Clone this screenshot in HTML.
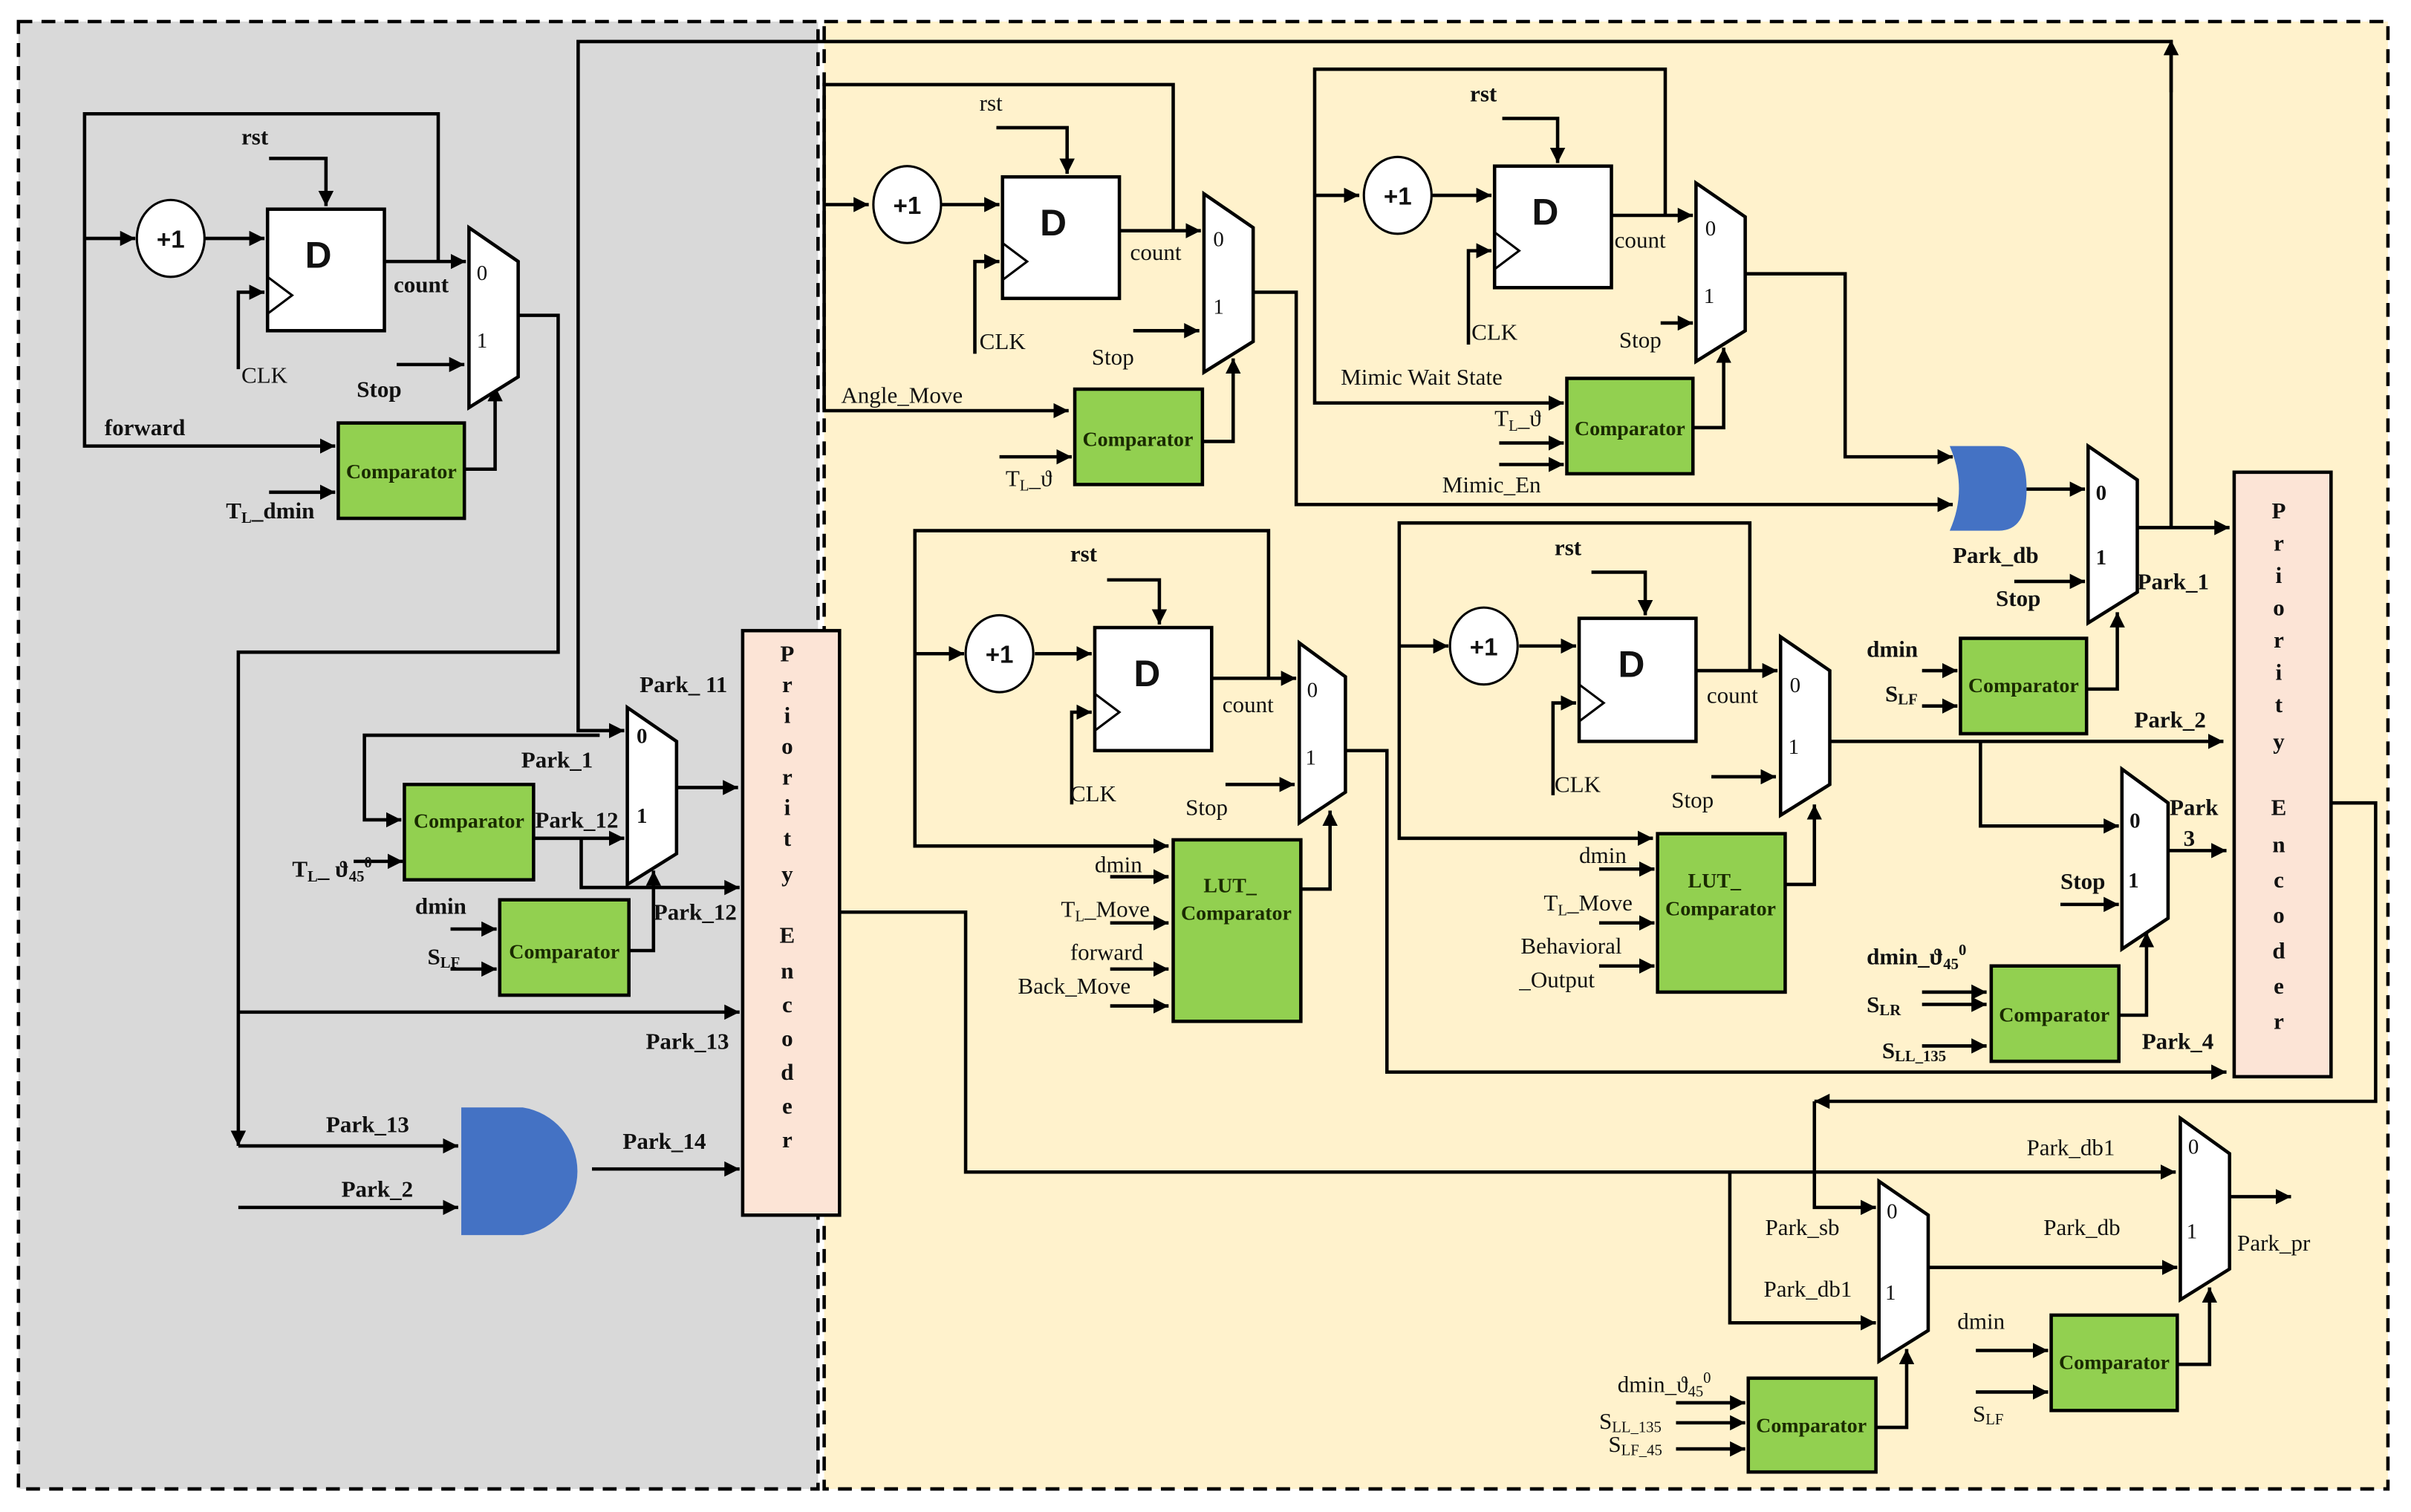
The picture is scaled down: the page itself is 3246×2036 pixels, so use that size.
<!DOCTYPE html>
<html><head><meta charset="utf-8"><style>
html,body{margin:0;padding:0;background:#fff;}
svg{display:block;}
text{font-family:"Liberation Serif",serif;font-size:15px;fill:#111;}
.c{font-size:13.5px;font-weight:bold;text-anchor:middle;fill:#1a2a00;}
.d{font-family:"Liberation Sans",sans-serif;font-size:24px;font-weight:bold;text-anchor:middle;}
.p{font-family:"Liberation Sans",sans-serif;font-size:16px;font-weight:bold;text-anchor:middle;}
.b{font-weight:bold;}
.m{font-size:14px;}
.pe{font-size:15px;font-weight:bold;text-anchor:middle;}
.s{font-size:10px;}
</style></head><body>
<svg width="3246" height="2036" viewBox="0 0 1568 983" preserveAspectRatio="none" xmlns="http://www.w3.org/2000/svg">
<defs>
<marker id="a" viewBox="0 0 10 10" refX="10" refY="5" markerWidth="4.5" markerHeight="4.5" orient="auto" markerUnits="strokeWidth"><path d="M0,0 L10,5 L0,10 z" fill="#000"/></marker>
</defs>
<rect width="1568" height="983" fill="#fff"/>
<rect x="12" y="14" width="520" height="954" fill="#d9d9d9" stroke="#000" stroke-width="2.2" stroke-dasharray="9,6"/>
<rect x="536" y="14" width="1017" height="954" fill="#fff2cc" stroke="#000" stroke-width="2.2" stroke-dasharray="9,6"/>

<g fill="none" stroke="#000" stroke-width="2.2">
<!-- LEFT block -->
<path d="M285,170 V74 H55 V290 H218" marker-end="url(#a)"/>
<path d="M55,155 H88" marker-end="url(#a)"/>
<path d="M133,155 H172" marker-end="url(#a)"/>
<path d="M175,103 H212 V134" marker-end="url(#a)"/>
<path d="M155,240 V190 H172" marker-end="url(#a)"/>
<path d="M250,170 H303" marker-end="url(#a)"/>
<path d="M258,237 H302" marker-end="url(#a)"/>
<path d="M175,320 H218" marker-end="url(#a)"/>
<path d="M302,305 H322 V251" marker-end="url(#a)"/>
<path d="M337,205 H363 V424 H155 V745" marker-end="url(#a)"/>
<path d="M155,745 H298" marker-end="url(#a)"/>
<path d="M155,658 H481" marker-end="url(#a)"/>
<path d="M155,785 H298" marker-end="url(#a)"/>
<path d="M385,760 H481" marker-end="url(#a)"/>
<path d="M1412,343 V27 H376 V475 H406" marker-end="url(#a)"/>
<path d="M1412,60 V26" marker-end="url(#a)"/>
<path d="M390,478 H237 V533 H261" marker-end="url(#a)"/>
<path d="M230,560 H262" marker-end="url(#a)"/>
<path d="M347,545 H406" marker-end="url(#a)"/>
<path d="M378,545 V577 H481" marker-end="url(#a)"/>
<path d="M440,512 H480" marker-end="url(#a)"/>
<path d="M293,604 H323" marker-end="url(#a)"/>
<path d="M293,630 H323" marker-end="url(#a)"/>
<path d="M409,618 H425 V566" marker-end="url(#a)"/>
<path d="M546,593 H628 V762 H1415" marker-end="url(#a)"/>

<!-- Block A -->
<path d="M763,150 V55 H536 V267 H695" marker-end="url(#a)"/>
<path d="M536,133 H565" marker-end="url(#a)"/>
<path d="M612,133 H650" marker-end="url(#a)"/>
<path d="M648,83 H694 V113" marker-end="url(#a)"/>
<path d="M634,230 V170 H650" marker-end="url(#a)"/>
<path d="M728,150 H781" marker-end="url(#a)"/>
<path d="M737,215 H780" marker-end="url(#a)"/>
<path d="M650,297 H697" marker-end="url(#a)"/>
<path d="M782,287 H802 V233" marker-end="url(#a)"/>
<path d="M815,190 H843 V328 H1270" marker-end="url(#a)"/>

<!-- Block B -->
<path d="M1083,140 V45 H855 V262 H1017" marker-end="url(#a)"/>
<path d="M855,127 H884" marker-end="url(#a)"/>
<path d="M931,127 H970" marker-end="url(#a)"/>
<path d="M977,77 H1013 V106" marker-end="url(#a)"/>
<path d="M955,224 V163 H970" marker-end="url(#a)"/>
<path d="M1048,140 H1101" marker-end="url(#a)"/>
<path d="M1080,210 H1101" marker-end="url(#a)"/>
<path d="M975,288 H1017" marker-end="url(#a)"/>
<path d="M975,302 H1017" marker-end="url(#a)"/>
<path d="M1101,278 H1121 V226" marker-end="url(#a)"/>
<path d="M1135,178 H1200 V297 H1270" marker-end="url(#a)"/>
<path d="M1314,318 H1356" marker-end="url(#a)"/>
<path d="M1310,378 H1356" marker-end="url(#a)"/>
<path d="M1390,343 H1450" marker-end="url(#a)"/>
<path d="M1250,436 H1273" marker-end="url(#a)"/>
<path d="M1250,459 H1273" marker-end="url(#a)"/>
<path d="M1357,448 H1377 V398" marker-end="url(#a)"/>

<!-- Block C -->
<path d="M825,440 V345 H595 V550 H760" marker-end="url(#a)"/>
<path d="M595,425 H627" marker-end="url(#a)"/>
<path d="M673,425 H710" marker-end="url(#a)"/>
<path d="M720,377 H754 V406" marker-end="url(#a)"/>
<path d="M697,523 V463 H710" marker-end="url(#a)"/>
<path d="M788,441 H843" marker-end="url(#a)"/>
<path d="M797,510 H842" marker-end="url(#a)"/>
<path d="M722,570 H760" marker-end="url(#a)"/>
<path d="M722,600 H760" marker-end="url(#a)"/>
<path d="M722,630 H760" marker-end="url(#a)"/>
<path d="M722,654 H760" marker-end="url(#a)"/>
<path d="M846,578 H865 V527" marker-end="url(#a)"/>
<path d="M875,488 H902 V697 H1448" marker-end="url(#a)"/>

<!-- Block D -->
<path d="M1138,435 V340 H910 V545 H1075" marker-end="url(#a)"/>
<path d="M910,420 H942" marker-end="url(#a)"/>
<path d="M988,420 H1025" marker-end="url(#a)"/>
<path d="M1035,372 H1070 V400" marker-end="url(#a)"/>
<path d="M1010,517 V457 H1025" marker-end="url(#a)"/>
<path d="M1103,436 H1156" marker-end="url(#a)"/>
<path d="M1113,505 H1155" marker-end="url(#a)"/>
<path d="M1040,565 H1076" marker-end="url(#a)"/>
<path d="M1040,600 H1076" marker-end="url(#a)"/>
<path d="M1040,628 H1076" marker-end="url(#a)"/>
<path d="M1161,575 H1180 V523" marker-end="url(#a)"/>
<path d="M1190,482 H1446" marker-end="url(#a)"/>
<path d="M1288,482 V537 H1378" marker-end="url(#a)"/>
<path d="M1340,588 H1378" marker-end="url(#a)"/>
<path d="M1410,553 H1448" marker-end="url(#a)"/>
<path d="M1250,645 H1292" marker-end="url(#a)"/>
<path d="M1250,653 H1292" marker-end="url(#a)"/>
<path d="M1250,680 H1292" marker-end="url(#a)"/>
<path d="M1378,660 H1396 V606" marker-end="url(#a)"/>

<!-- bottom -->
<path d="M1516,522 H1545 V716 H1180" marker-end="url(#a)"/>
<path d="M1180,716 V785 H1220" marker-end="url(#a)"/>
<path d="M1125,762 V860 H1220" marker-end="url(#a)"/>
<path d="M1254,824 H1416" marker-end="url(#a)"/>
<path d="M1450,778 H1490" marker-end="url(#a)"/>
<path d="M1090,912 H1135" marker-end="url(#a)"/>
<path d="M1090,925 H1135" marker-end="url(#a)"/>
<path d="M1090,942 H1135" marker-end="url(#a)"/>
<path d="M1220,928 H1240 V877" marker-end="url(#a)"/>
<path d="M1285,878 H1332" marker-end="url(#a)"/>
<path d="M1285,905 H1332" marker-end="url(#a)"/>
<path d="M1416,887 H1437 V837" marker-end="url(#a)"/>
</g>

<!-- components -->
<g stroke="#000" stroke-width="2.2">
<!-- +1 circles -->
<ellipse cx="111" cy="155" rx="22" ry="25" fill="#fff" stroke-width="1.5"/>
<ellipse cx="590" cy="133" rx="22" ry="25" fill="#fff" stroke-width="1.5"/>
<ellipse cx="909" cy="127" rx="22" ry="25" fill="#fff" stroke-width="1.5"/>
<ellipse cx="650" cy="425" rx="22" ry="25" fill="#fff" stroke-width="1.5"/>
<ellipse cx="965" cy="420" rx="22" ry="25" fill="#fff" stroke-width="1.5"/>
<!-- D regs -->
<rect x="174" y="136" width="76" height="79" fill="#fff"/>
<path d="M174,180 L190,192 L174,204" fill="none" stroke-width="1.5"/>
<rect x="652" y="115" width="76" height="79" fill="#fff"/>
<path d="M652,158 L668,170 L652,182" fill="none" stroke-width="1.5"/>
<rect x="972" y="108" width="76" height="79" fill="#fff"/>
<path d="M972,151 L988,163 L972,175" fill="none" stroke-width="1.5"/>
<rect x="712" y="408" width="76" height="80" fill="#fff"/>
<path d="M712,451 L728,463 L712,475" fill="none" stroke-width="1.5"/>
<rect x="1027" y="402" width="76" height="80" fill="#fff"/>
<path d="M1027,445 L1043,457 L1027,469" fill="none" stroke-width="1.5"/>
<!-- muxes -->
<polygon points="305,148 337,170 337,245 305,265" fill="#fff"/>
<polygon points="783,126 815,148 815,222 783,242" fill="#fff"/>
<polygon points="1103,119 1135,141 1135,215 1103,235" fill="#fff"/>
<polygon points="1358,290 1390,312 1390,385 1358,405" fill="#fff"/>
<polygon points="408,460 440,482 440,555 408,575" fill="#fff"/>
<polygon points="845,418 875,440 875,515 845,535" fill="#fff"/>
<polygon points="1158,414 1190,436 1190,510 1158,530" fill="#fff"/>
<polygon points="1380,500 1410,522 1410,597 1380,617" fill="#fff"/>
<polygon points="1222,768 1254,790 1254,865 1222,885" fill="#fff"/>
<polygon points="1418,727 1450,750 1450,825 1418,845" fill="#fff"/>
<!-- comparators -->
<g fill="#92d050">
<rect x="220" y="275" width="82" height="62"/>
<rect x="263" y="510" width="84" height="62"/>
<rect x="325" y="585" width="84" height="62"/>
<rect x="699" y="253" width="83" height="62"/>
<rect x="1019" y="246" width="82" height="62"/>
<rect x="1275" y="415" width="82" height="62"/>
<rect x="1295" y="628" width="83" height="62"/>
<rect x="1137" y="896" width="83" height="61"/>
<rect x="1334" y="855" width="82" height="62"/>
<rect x="763" y="546" width="83" height="118"/>
<rect x="1078" y="542" width="83" height="103"/>
</g>
<!-- priority encoders -->
<rect x="483" y="410" width="63" height="380" fill="#fce4d6"/>
<rect x="1453" y="307" width="63" height="393" fill="#fce4d6"/>
</g>
<!-- gates -->
<path d="M300,720 H340 A42,42 0 0 1 340,803 H300 Z" fill="#4472c4"/>
<path d="M1268,290 H1300 Q1318,290 1318,318 Q1318,345 1300,345 H1268 Q1280,318 1268,290 Z" fill="#4472c4"/>

<!-- text -->
<g>
<text class="p" x="111" y="161">+1</text>
<text class="p" x="590" y="139">+1</text>
<text class="p" x="909" y="133">+1</text>
<text class="p" x="650" y="431">+1</text>
<text class="p" x="965" y="426">+1</text>
<text class="d" x="207" y="174">D</text>
<text class="d" x="685" y="153">D</text>
<text class="d" x="1005" y="146">D</text>
<text class="d" x="746" y="446">D</text>
<text class="d" x="1061" y="440">D</text>

<text class="c" x="261" y="311">Comparator</text>
<text class="c" x="305" y="538">Comparator</text>
<text class="c" x="367" y="623">Comparator</text>
<text class="c" x="740" y="290">Comparator</text>
<text class="c" x="1060" y="283">Comparator</text>
<text class="c" x="1316" y="450">Comparator</text>
<text class="c" x="1336" y="664">Comparator</text>
<text class="c" x="1178" y="931">Comparator</text>
<text class="c" x="1375" y="890">Comparator</text>
<text class="c" x="800" y="580">LUT_</text>
<text class="c" x="804" y="598">Comparator</text>
<text class="c" x="1115" y="577">LUT_</text>
<text class="c" x="1119" y="595">Comparator</text>

<text class="pe" x="512" y="430">P</text><text class="pe" x="512" y="450">r</text><text class="pe" x="512" y="470">i</text><text class="pe" x="512" y="490">o</text><text class="pe" x="512" y="510">r</text><text class="pe" x="512" y="530">i</text><text class="pe" x="512" y="550">t</text><text class="pe" x="512" y="573">y</text><text class="pe" x="512" y="613">E</text><text class="pe" x="512" y="636">n</text><text class="pe" x="512" y="658">c</text><text class="pe" x="512" y="680">o</text><text class="pe" x="512" y="702">d</text><text class="pe" x="512" y="724">e</text><text class="pe" x="512" y="746">r</text>
<text class="pe" x="1482" y="337">P</text><text class="pe" x="1482" y="358">r</text><text class="pe" x="1482" y="379">i</text><text class="pe" x="1482" y="400">o</text><text class="pe" x="1482" y="421">r</text><text class="pe" x="1482" y="442">i</text><text class="pe" x="1482" y="463">t</text><text class="pe" x="1482" y="487">y</text><text class="pe" x="1482" y="530">E</text><text class="pe" x="1482" y="554">n</text><text class="pe" x="1482" y="577">c</text><text class="pe" x="1482" y="600">o</text><text class="pe" x="1482" y="623">d</text><text class="pe" x="1482" y="646">e</text><text class="pe" x="1482" y="669">r</text>

<!-- mux labels -->
<text class="m" x="310" y="182">0</text><text class="m" x="310" y="226">1</text>
<text class="m" x="789" y="160">0</text><text class="m" x="789" y="204">1</text>
<text class="m" x="1109" y="153">0</text><text class="m" x="1108" y="197">1</text>
<text class="m b" x="1363" y="325">0</text><text class="m b" x="1363" y="367">1</text>
<text class="m b" x="414" y="483">0</text><text class="m b" x="414" y="535">1</text>
<text class="m" x="850" y="453">0</text><text class="m" x="849" y="497">1</text>
<text class="m" x="1164" y="450">0</text><text class="m" x="1163" y="490">1</text>
<text class="m b" x="1385" y="538">0</text><text class="m b" x="1384" y="577">1</text>
<text class="m" x="1227" y="792">0</text><text class="m" x="1226" y="845">1</text>
<text class="m" x="1423" y="750">0</text><text class="m" x="1422" y="805">1</text>

<!-- left labels -->
<text class="b" x="157" y="94">rst</text>
<text x="157" y="249">CLK</text>
<text class="b" x="256" y="190">count</text>
<text class="b" x="232" y="258">Stop</text>
<text class="b" x="68" y="283">forward</text>
<text class="b" x="147" y="337">T<tspan class="s" dy="3">L</tspan><tspan dy="-3">_dmin</tspan></text>
<text class="b" x="416" y="450">Park_ 11</text>
<text class="b" x="339" y="499">Park_1</text>
<text class="b" x="348" y="538">Park_12</text>
<text class="b" x="190" y="570">T<tspan class="s" dy="3">L</tspan><tspan dy="-3">_ ϑ</tspan><tspan class="s" dy="3">45</tspan><tspan class="s" dy="-9">0</tspan></text>
<text class="b" x="270" y="594">dmin</text>
<text class="b" x="278" y="627">S<tspan class="s" dy="2">LF</tspan></text>
<text class="b" x="425" y="598">Park_12</text>
<text class="b" x="420" y="682">Park_13</text>
<text class="b" x="212" y="736">Park_13</text>
<text class="b" x="222" y="778">Park_2</text>
<text class="b" x="405" y="747">Park_14</text>

<!-- block A -->
<text x="637" y="72">rst</text>
<text x="637" y="227">CLK</text>
<text x="735" y="169">count</text>
<text x="710" y="237">Stop</text>
<text x="547" y="262">Angle_Move</text>
<text x="654" y="316">T<tspan class="s" dy="3">L</tspan><tspan dy="-3">_ϑ</tspan></text>
<!-- block B -->
<text class="b" x="956" y="66">rst</text>
<text x="957" y="221">CLK</text>
<text x="1050" y="161">count</text>
<text x="1053" y="226">Stop</text>
<text x="872" y="250">Mimic Wait State</text>
<text x="972" y="277">T<tspan class="s" dy="3">L</tspan><tspan dy="-3">_ϑ</tspan></text>
<text x="938" y="320">Mimic_En</text>
<text class="b" x="1270" y="366">Park_db</text>
<text class="b" x="1298" y="394">Stop</text>
<text class="b" x="1390" y="383">Park_1</text>
<text class="b" x="1214" y="427">dmin</text>
<text class="b" x="1226" y="456">S<tspan class="s" dy="2">LF</tspan></text>
<text class="b" x="1388" y="473">Park_2</text>
<text class="b" x="1411" y="530">Park</text>
<text class="b" x="1420" y="550" font-size="12">3</text>
<text class="b" x="1340" y="578">Stop</text>
<text class="b" x="1214" y="627">dmin_ϑ<tspan class="s" dy="3">45</tspan><tspan class="s" dy="-9">0</tspan></text>
<text class="b" x="1214" y="658">S<tspan class="s" dy="2">LR</tspan></text>
<text class="b" x="1224" y="688">S<tspan class="s" dy="2">LL_135</tspan></text>
<text class="b" x="1393" y="682">Park_4</text>
<!-- block C -->
<text class="b" x="696" y="365">rst</text>
<text x="696" y="521">CLK</text>
<text x="795" y="463">count</text>
<text x="771" y="530">Stop</text>
<text x="712" y="567">dmin</text>
<text x="690" y="596">T<tspan class="s" dy="3">L</tspan><tspan dy="-3">_Move</tspan></text>
<text x="696" y="624">forward</text>
<text x="662" y="646">Back_Move</text>
<!-- block D -->
<text class="b" x="1011" y="361">rst</text>
<text x="1011" y="515">CLK</text>
<text x="1110" y="457">count</text>
<text x="1087" y="525">Stop</text>
<text x="1027" y="561">dmin</text>
<text x="1004" y="592">T<tspan class="s" dy="3">L</tspan><tspan dy="-3">_Move</tspan></text>
<text x="989" y="620">Behavioral</text>
<text x="988" y="642">_Output</text>
<!-- bottom -->
<text x="1318" y="751">Park_db1</text>
<text x="1148" y="803">Park_sb</text>
<text x="1147" y="843">Park_db1</text>
<text x="1329" y="803">Park_db</text>
<text x="1455" y="813">Park_pr</text>
<text x="1052" y="905">dmin_ϑ<tspan class="s" dy="3">45</tspan><tspan class="s" dy="-9">0</tspan></text>
<text x="1040" y="929">S<tspan class="s" dy="2">LL_135</tspan></text>
<text x="1046" y="944">S<tspan class="s" dy="2">LF_45</tspan></text>
<text x="1273" y="864">dmin</text>
<text x="1283" y="924">S<tspan class="s" dy="2">LF</tspan></text>
</g>
</svg>
</body></html>
